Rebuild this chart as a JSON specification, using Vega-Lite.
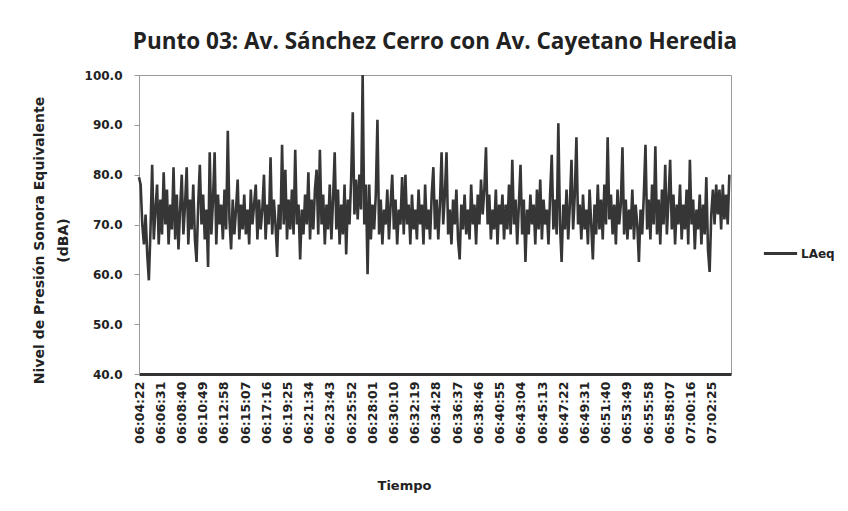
{
  "$schema": "https://vega.github.io/schema/vega-lite/v6.json",
  "autosize": "none",
  "width": 592,
  "height": 299,
  "padding": {"left": 139, "top": 75, "right": 117, "bottom": 137},
  "background": "white",
  "title": {"text": "Punto 03: Av. Sánchez Cerro con Av. Cayetano Heredia", "font": "Open Sans", "fontWeight": "bold", "fontSize": 22.5, "color": "#222222", "anchor": "middle", "baseline": "alphabetic", "offset": -2},
  "config": {"view": {"stroke": "#9a9a9a", "strokeWidth": 1}},
  "data": {
    "format": {"parse": {"t": "date:'%H:%M:%S'"}},
    "values": [
      {"t":"06:04:22","v":79.5},{"t":"06:04:32","v":78},{"t":"06:04:42","v":70},{"t":"06:04:52","v":66},
      {"t":"06:05:02","v":72},{"t":"06:05:12","v":64},{"t":"06:05:22","v":58.8},{"t":"06:05:32","v":69},{"t":"06:05:42","v":82},{"t":"06:05:52","v":67},
      {"t":"06:06:02","v":73},{"t":"06:06:12","v":78},{"t":"06:06:22","v":66},{"t":"06:06:32","v":75},{"t":"06:06:42","v":68},{"t":"06:06:52","v":80.5},
      {"t":"06:07:02","v":70},{"t":"06:07:12","v":77},{"t":"06:07:22","v":66},{"t":"06:07:32","v":74},{"t":"06:07:42","v":69},{"t":"06:07:52","v":81.5},
      {"t":"06:08:02","v":67},{"t":"06:08:12","v":76},{"t":"06:08:22","v":65},{"t":"06:08:32","v":73},{"t":"06:08:42","v":80},{"t":"06:08:52","v":68},
      {"t":"06:09:02","v":74},{"t":"06:09:12","v":81.5},{"t":"06:09:22","v":66},{"t":"06:09:32","v":75},{"t":"06:09:42","v":69},{"t":"06:09:52","v":78},
      {"t":"06:10:02","v":67},{"t":"06:10:12","v":62.5},{"t":"06:10:22","v":74},{"t":"06:10:32","v":82},{"t":"06:10:42","v":70},{"t":"06:10:52","v":76},
      {"t":"06:11:02","v":67},{"t":"06:11:12","v":73},{"t":"06:11:22","v":61.5},{"t":"06:11:32","v":84.5},{"t":"06:11:42","v":68},{"t":"06:11:52","v":75},
      {"t":"06:12:02","v":84.5},{"t":"06:12:12","v":66},{"t":"06:12:22","v":76},{"t":"06:12:32","v":70},{"t":"06:12:42","v":74},{"t":"06:12:52","v":67},
      {"t":"06:13:02","v":77},{"t":"06:13:12","v":69},{"t":"06:13:22","v":88.8},{"t":"06:13:32","v":71},{"t":"06:13:42","v":65},{"t":"06:13:52","v":75},
      {"t":"06:14:02","v":68},{"t":"06:14:12","v":73},{"t":"06:14:22","v":79},{"t":"06:14:32","v":67},{"t":"06:14:42","v":74},{"t":"06:14:52","v":69},
      {"t":"06:15:02","v":76},{"t":"06:15:12","v":68},{"t":"06:15:22","v":73},{"t":"06:15:32","v":66},{"t":"06:15:42","v":77},{"t":"06:15:52","v":70},
      {"t":"06:16:02","v":74},{"t":"06:16:12","v":78},{"t":"06:16:22","v":67},{"t":"06:16:32","v":75},{"t":"06:16:42","v":69},{"t":"06:16:52","v":73},
      {"t":"06:17:02","v":80},{"t":"06:17:12","v":67},{"t":"06:17:22","v":74},{"t":"06:17:32","v":70},{"t":"06:17:42","v":83.5},{"t":"06:17:52","v":68},
      {"t":"06:18:02","v":75},{"t":"06:18:12","v":70},{"t":"06:18:22","v":63.5},{"t":"06:18:32","v":74},{"t":"06:18:42","v":69},{"t":"06:18:52","v":86},
      {"t":"06:19:02","v":70},{"t":"06:19:12","v":81},{"t":"06:19:22","v":67},{"t":"06:19:32","v":75},{"t":"06:19:42","v":69},{"t":"06:19:52","v":77},
      {"t":"06:20:02","v":68},{"t":"06:20:12","v":85},{"t":"06:20:22","v":70},{"t":"06:20:32","v":74},{"t":"06:20:42","v":63},{"t":"06:20:52","v":73},
      {"t":"06:21:02","v":68},{"t":"06:21:12","v":76},{"t":"06:21:22","v":70},{"t":"06:21:32","v":80.5},{"t":"06:21:42","v":67},{"t":"06:21:52","v":75},
      {"t":"06:22:02","v":69},{"t":"06:22:12","v":77},{"t":"06:22:22","v":81},{"t":"06:22:32","v":68},{"t":"06:22:42","v":85},{"t":"06:22:52","v":70},
      {"t":"06:23:02","v":76},{"t":"06:23:12","v":66},{"t":"06:23:22","v":74},{"t":"06:23:32","v":69},{"t":"06:23:42","v":78},{"t":"06:23:52","v":67},
      {"t":"06:24:02","v":75},{"t":"06:24:12","v":84.5},{"t":"06:24:22","v":69},{"t":"06:24:32","v":77},{"t":"06:24:42","v":66},{"t":"06:24:52","v":74},
      {"t":"06:25:02","v":68},{"t":"06:25:12","v":78},{"t":"06:25:22","v":64},{"t":"06:25:32","v":75},{"t":"06:25:42","v":70},{"t":"06:25:52","v":79},
      {"t":"06:26:02","v":92.5},{"t":"06:26:12","v":72},{"t":"06:26:22","v":79},{"t":"06:26:32","v":71},{"t":"06:26:42","v":80},{"t":"06:26:52","v":73},
      {"t":"06:27:02","v":100},{"t":"06:27:12","v":70},{"t":"06:27:22","v":78},{"t":"06:27:32","v":60},{"t":"06:27:42","v":78},{"t":"06:27:52","v":67},
      {"t":"06:28:02","v":74},{"t":"06:28:12","v":69},{"t":"06:28:22","v":76},{"t":"06:28:32","v":91},{"t":"06:28:42","v":68},{"t":"06:28:52","v":75},
      {"t":"06:29:02","v":66},{"t":"06:29:12","v":73},{"t":"06:29:22","v":70},{"t":"06:29:32","v":77},{"t":"06:29:42","v":67},{"t":"06:29:52","v":74},
      {"t":"06:30:02","v":80},{"t":"06:30:12","v":69},{"t":"06:30:22","v":75},{"t":"06:30:32","v":66},{"t":"06:30:42","v":73},{"t":"06:30:52","v":70},
      {"t":"06:31:02","v":79.5},{"t":"06:31:12","v":68},{"t":"06:31:22","v":80},{"t":"06:31:32","v":70},{"t":"06:31:42","v":74},{"t":"06:31:52","v":66},
      {"t":"06:32:02","v":76},{"t":"06:32:12","v":69},{"t":"06:32:22","v":73},{"t":"06:32:32","v":67},{"t":"06:32:42","v":77},{"t":"06:32:52","v":70},
      {"t":"06:33:02","v":74},{"t":"06:33:12","v":66},{"t":"06:33:22","v":78},{"t":"06:33:32","v":69},{"t":"06:33:42","v":73},{"t":"06:33:52","v":67},
      {"t":"06:34:02","v":76},{"t":"06:34:12","v":81.5},{"t":"06:34:22","v":69},{"t":"06:34:32","v":75},{"t":"06:34:42","v":67},{"t":"06:34:52","v":74},
      {"t":"06:35:02","v":84.5},{"t":"06:35:12","v":70},{"t":"06:35:22","v":76},{"t":"06:35:32","v":84.5},{"t":"06:35:42","v":68},{"t":"06:35:52","v":73},
      {"t":"06:36:02","v":66},{"t":"06:36:12","v":75},{"t":"06:36:22","v":70},{"t":"06:36:32","v":77},{"t":"06:36:42","v":67},{"t":"06:36:52","v":63},
      {"t":"06:37:02","v":74},{"t":"06:37:12","v":69},{"t":"06:37:22","v":76},{"t":"06:37:32","v":68},{"t":"06:37:42","v":73},{"t":"06:37:52","v":67},
      {"t":"06:38:02","v":78},{"t":"06:38:12","v":70},{"t":"06:38:22","v":74},{"t":"06:38:32","v":66},{"t":"06:38:42","v":76},{"t":"06:38:52","v":70},
      {"t":"06:39:02","v":79},{"t":"06:39:12","v":72},{"t":"06:39:22","v":77},{"t":"06:39:32","v":85.5},{"t":"06:39:42","v":70},{"t":"06:39:52","v":76},
      {"t":"06:40:02","v":67},{"t":"06:40:12","v":73},{"t":"06:40:22","v":69},{"t":"06:40:32","v":77},{"t":"06:40:42","v":66},{"t":"06:40:52","v":74},
      {"t":"06:41:02","v":70},{"t":"06:41:12","v":76},{"t":"06:41:22","v":67},{"t":"06:41:32","v":74},{"t":"06:41:42","v":69},{"t":"06:41:52","v":78},
      {"t":"06:42:02","v":68},{"t":"06:42:12","v":83},{"t":"06:42:22","v":70},{"t":"06:42:32","v":75},{"t":"06:42:42","v":66},{"t":"06:42:52","v":74},
      {"t":"06:43:02","v":82},{"t":"06:43:12","v":68},{"t":"06:43:22","v":75},{"t":"06:43:32","v":62.5},{"t":"06:43:42","v":73},{"t":"06:43:52","v":68},
      {"t":"06:44:02","v":76},{"t":"06:44:12","v":70},{"t":"06:44:22","v":74},{"t":"06:44:32","v":66},{"t":"06:44:42","v":77},{"t":"06:44:52","v":69},
      {"t":"06:45:02","v":79},{"t":"06:45:12","v":67},{"t":"06:45:22","v":75},{"t":"06:45:32","v":70},{"t":"06:45:42","v":73},{"t":"06:45:52","v":66},
      {"t":"06:46:02","v":76},{"t":"06:46:12","v":84},{"t":"06:46:22","v":69},{"t":"06:46:32","v":75},{"t":"06:46:42","v":68},{"t":"06:46:52","v":90.3},
      {"t":"06:47:02","v":70},{"t":"06:47:12","v":62.5},{"t":"06:47:22","v":74},{"t":"06:47:32","v":69},{"t":"06:47:42","v":77},{"t":"06:47:52","v":67},
      {"t":"06:48:02","v":74},{"t":"06:48:12","v":83},{"t":"06:48:22","v":69},{"t":"06:48:32","v":76},{"t":"06:48:42","v":87.5},{"t":"06:48:52","v":70},
      {"t":"06:49:02","v":74},{"t":"06:49:12","v":67},{"t":"06:49:22","v":76},{"t":"06:49:32","v":69},{"t":"06:49:42","v":73},{"t":"06:49:52","v":66},
      {"t":"06:50:02","v":77},{"t":"06:50:12","v":70},{"t":"06:50:22","v":63},{"t":"06:50:32","v":74},{"t":"06:50:42","v":68},{"t":"06:50:52","v":78},
      {"t":"06:51:02","v":69},{"t":"06:51:12","v":75},{"t":"06:51:22","v":67},{"t":"06:51:32","v":78},{"t":"06:51:42","v":70},{"t":"06:51:52","v":87.5},
      {"t":"06:52:02","v":71},{"t":"06:52:12","v":76},{"t":"06:52:22","v":68},{"t":"06:52:32","v":74},{"t":"06:52:42","v":66},{"t":"06:52:52","v":77},
      {"t":"06:53:02","v":70},{"t":"06:53:12","v":74},{"t":"06:53:22","v":85.5},{"t":"06:53:32","v":68},{"t":"06:53:42","v":75},{"t":"06:53:52","v":67},
      {"t":"06:54:02","v":73},{"t":"06:54:12","v":69},{"t":"06:54:22","v":77},{"t":"06:54:32","v":67},{"t":"06:54:42","v":74},{"t":"06:54:52","v":70},
      {"t":"06:55:02","v":62.5},{"t":"06:55:12","v":73},{"t":"06:55:22","v":68},{"t":"06:55:32","v":76},{"t":"06:55:42","v":86},{"t":"06:55:52","v":69},
      {"t":"06:56:02","v":75},{"t":"06:56:12","v":67},{"t":"06:56:22","v":78},{"t":"06:56:32","v":70},{"t":"06:56:42","v":85.7},{"t":"06:56:52","v":68},
      {"t":"06:57:02","v":75},{"t":"06:57:12","v":66},{"t":"06:57:22","v":77},{"t":"06:57:32","v":70},{"t":"06:57:42","v":82},{"t":"06:57:52","v":68},
      {"t":"06:58:02","v":75},{"t":"06:58:12","v":83},{"t":"06:58:22","v":69},{"t":"06:58:32","v":76},{"t":"06:58:42","v":66},{"t":"06:58:52","v":74},
      {"t":"06:59:02","v":70},{"t":"06:59:12","v":78},{"t":"06:59:22","v":67},{"t":"06:59:32","v":74},{"t":"06:59:42","v":69},{"t":"06:59:52","v":77},
      {"t":"07:00:02","v":66},{"t":"07:00:12","v":83},{"t":"07:00:22","v":70},{"t":"07:00:32","v":75},{"t":"07:00:42","v":65},{"t":"07:00:52","v":73},
      {"t":"07:01:02","v":69},{"t":"07:01:12","v":76},{"t":"07:01:22","v":66},{"t":"07:01:32","v":74},{"t":"07:01:42","v":68},{"t":"07:01:52","v":79.5},
      {"t":"07:02:02","v":65},{"t":"07:02:12","v":60.5},{"t":"07:02:22","v":72},{"t":"07:02:32","v":77},{"t":"07:02:42","v":70},{"t":"07:02:52","v":78},
      {"t":"07:03:02","v":72},{"t":"07:03:12","v":77},{"t":"07:03:22","v":69},{"t":"07:03:32","v":78},{"t":"07:03:42","v":71},{"t":"07:03:52","v":76},
      {"t":"07:04:02","v":70},{"t":"07:04:12","v":80}
    ]
  },
  "mark": {"type": "line", "strokeWidth": 2.6, "interpolate": "linear"},
  "encoding": {
    "x": {
      "field": "t", "type": "temporal",
      "scale": {"domain": [
        {"year": 1900, "month": 1, "date": 1, "hours": 6, "minutes": 4, "seconds": 22},
        {"year": 1900, "month": 1, "date": 1, "hours": 7, "minutes": 4, "seconds": 22}
      ]},
      "axis": {
        "title": "Tiempo",
        "format": "%H:%M:%S",
        "values": [
          {"year":1900,"month":1,"date":1,"hours":6,"minutes":4,"seconds":22},
          {"year":1900,"month":1,"date":1,"hours":6,"minutes":6,"seconds":31},
          {"year":1900,"month":1,"date":1,"hours":6,"minutes":8,"seconds":40},
          {"year":1900,"month":1,"date":1,"hours":6,"minutes":10,"seconds":49},
          {"year":1900,"month":1,"date":1,"hours":6,"minutes":12,"seconds":58},
          {"year":1900,"month":1,"date":1,"hours":6,"minutes":15,"seconds":7},
          {"year":1900,"month":1,"date":1,"hours":6,"minutes":17,"seconds":16},
          {"year":1900,"month":1,"date":1,"hours":6,"minutes":19,"seconds":25},
          {"year":1900,"month":1,"date":1,"hours":6,"minutes":21,"seconds":34},
          {"year":1900,"month":1,"date":1,"hours":6,"minutes":23,"seconds":43},
          {"year":1900,"month":1,"date":1,"hours":6,"minutes":25,"seconds":52},
          {"year":1900,"month":1,"date":1,"hours":6,"minutes":28,"seconds":1},
          {"year":1900,"month":1,"date":1,"hours":6,"minutes":30,"seconds":10},
          {"year":1900,"month":1,"date":1,"hours":6,"minutes":32,"seconds":19},
          {"year":1900,"month":1,"date":1,"hours":6,"minutes":34,"seconds":28},
          {"year":1900,"month":1,"date":1,"hours":6,"minutes":36,"seconds":37},
          {"year":1900,"month":1,"date":1,"hours":6,"minutes":38,"seconds":46},
          {"year":1900,"month":1,"date":1,"hours":6,"minutes":40,"seconds":55},
          {"year":1900,"month":1,"date":1,"hours":6,"minutes":43,"seconds":4},
          {"year":1900,"month":1,"date":1,"hours":6,"minutes":45,"seconds":13},
          {"year":1900,"month":1,"date":1,"hours":6,"minutes":47,"seconds":22},
          {"year":1900,"month":1,"date":1,"hours":6,"minutes":49,"seconds":31},
          {"year":1900,"month":1,"date":1,"hours":6,"minutes":51,"seconds":40},
          {"year":1900,"month":1,"date":1,"hours":6,"minutes":53,"seconds":49},
          {"year":1900,"month":1,"date":1,"hours":6,"minutes":55,"seconds":58},
          {"year":1900,"month":1,"date":1,"hours":6,"minutes":58,"seconds":7},
          {"year":1900,"month":1,"date":1,"hours":7,"minutes":0,"seconds":16},
          {"year":1900,"month":1,"date":1,"hours":7,"minutes":2,"seconds":25}
        ],
        "labelAngle": 270,
        "labelFont": "DejaVu Sans", "labelFontWeight": "bold", "labelFontSize": 12.5, "labelColor": "#222222",
        "labelPadding": 7, "labelOverlap": false, "labelFlush": false,
        "ticks": false, "grid": false,
        "domainColor": "#333333", "domainWidth": 3,
        "titleFont": "DejaVu Sans", "titleFontWeight": "bold", "titleFontSize": 13, "titleColor": "#222222",
        "titleX": 265, "titleY": 111, "titleBaseline": "middle", "titleAnchor": null
      }
    },
    "y": {
      "field": "v", "type": "quantitative",
      "scale": {"domain": [40, 100], "nice": false, "zero": false},
      "axis": {
        "title": ["Nivel de Presión Sonora Equivalente", "(dBA)"],
        "values": [40, 50, 60, 70, 80, 90, 100],
        "format": ".1f",
        "grid": false,
        "labelFont": "DejaVu Sans", "labelFontWeight": "bold", "labelFontSize": 12, "labelColor": "#222222",
        "labelPadding": 12,
        "tickColor": "#9a9a9a", "tickSize": 5,
        "domainColor": "#9a9a9a", "domainWidth": 1,
        "titleFont": "DejaVu Sans", "titleFontWeight": "bold", "titleFontSize": 14, "titleColor": "#222222",
        "titleAngle": 270, "titleX": -100, "titleY": 165, "titleAlign": "center", "titleBaseline": "middle", "titleLineHeight": 24
      }
    },
    "color": {
      "datum": "LAeq",
      "type": "nominal",
      "scale": {"range": ["#363636"]},
      "legend": {
        "title": null, "orient": "none", "legendX": 623, "legendY": 160,
        "symbolType": "stroke", "symbolSize": 1100, "symbolStrokeWidth": 3,
        "labelFont": "DejaVu Sans", "labelFontWeight": "bold", "labelFontSize": 12, "labelColor": "#222222", "labelOffset": 2
      }
    }
  }
}
